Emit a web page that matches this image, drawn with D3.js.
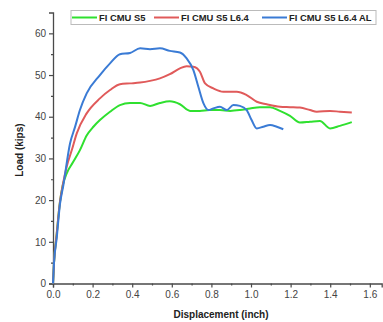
<!DOCTYPE html>
<html>
<head>
<meta charset="utf-8">
<script src="https://cdn.jsdelivr.net/npm/d3@7"></script>
<style>
  html, body { margin: 0; padding: 0; background: #fff; }
  svg { display: block; font-family: 'Liberation Sans', Arial, sans-serif; }
</style>
</head>
<body>
<div id="chart"></div>
<script>
// Series names (legend order)
const seriesNames = ['FI CMU S5', 'FI CMU S5 L6.4', 'FI CMU S5 L6.4 AL'];
const seriesColors = ['#2fe02f', '#e05a5a', '#3a7bd5'];

// Displacement (inch), Load (kips)
const s5X = [0, 0.005, 0.019, 0.035, 0.049, 0.07, 0.1, 0.136, 0.17, 0.204, 0.237, 0.288, 0.338, 0.389, 0.44, 0.49, 0.54, 0.59, 0.641, 0.692, 0.742, 0.79, 0.843, 0.894, 0.944, 0.995, 1.045, 1.096, 1.146, 1.197, 1.247, 1.298, 1.348, 1.399, 1.449, 1.509];
const s5Y = [0, 4.9, 12, 19.5, 23.5, 26.5, 29, 32, 35.5, 37.6, 39.2, 41.2, 42.8, 43.3, 43.3, 42.6, 43.3, 43.7, 43.0, 41.4, 41.4, 41.6, 41.6, 41.4, 41.6, 42, 42.3, 42.3, 41.4, 40.2, 38.6, 38.8, 39, 37.2, 37.8, 38.7];

const l64X = [0, 0.005, 0.019, 0.035, 0.049, 0.069, 0.095, 0.12, 0.17, 0.237, 0.288, 0.338, 0.389, 0.44, 0.49, 0.54, 0.59, 0.641, 0.675, 0.709, 0.742, 0.768, 0.81, 0.86, 0.928, 0.978, 1.029, 1.079, 1.146, 1.197, 1.247, 1.298, 1.332, 1.399, 1.449, 1.509];
const l64Y = [0, 4.9, 12, 19.5, 23.5, 28, 32, 36, 40.8, 44.4, 46.4, 47.8, 48, 48.2, 48.6, 49.2, 50.2, 51.6, 52.1, 52, 50.8, 48, 46.8, 46, 46, 45.2, 43.6, 43, 42.4, 42.3, 42.2, 41.6, 41.2, 41.4, 41.2, 41];

const alX = [0, 0.005, 0.019, 0.035, 0.052, 0.086, 0.111, 0.136, 0.17, 0.237, 0.288, 0.338, 0.389, 0.44, 0.49, 0.54, 0.59, 0.641, 0.675, 0.709, 0.734, 0.76, 0.785, 0.81, 0.843, 0.877, 0.911, 0.944, 0.978, 1.003, 1.029, 1.062, 1.096, 1.13, 1.163];
const alY = [0, 4.9, 11, 19, 23.5, 33.6, 37.5, 41.6, 45.6, 50, 52.8, 55, 55.3, 56.4, 56.2, 56.4, 55.8, 55.4, 54, 51.2, 47.2, 43.2, 41.6, 42, 42.4, 41.6, 42.8, 42.6, 41.6, 39.2, 37.2, 37.6, 38, 37.6, 37];

const xTicks = [0, 0.2, 0.4, 0.6, 0.8, 1.0, 1.2, 1.4, 1.6];
const xMinorTicks = [0.1, 0.3, 0.5, 0.7, 0.9, 1.1, 1.3, 1.5];
const yTicks = [0, 10, 20, 30, 40, 50, 60];
const yMinorTicks = [5, 15, 25, 35, 45, 55];

const width = 383, height = 322;
const svg = d3.select('#chart').append('svg')
  .attr('width', width)
  .attr('height', height);

const x = d3.scaleLinear().domain([0, 1.66]).range([53, 381.7]);
const y = d3.scaleLinear().domain([0, 65]).range([283.5, 12.5]);

const axisColor = '#4a4a4a';
const labelColor = '#444';

// Axes
svg.append('g')
  .attr('transform', `translate(0, ${y(0)})`)
  .call(d3.axisBottom(x).tickValues(xTicks).tickSize(4).tickPadding(3).tickFormat(d3.format('.1f')));
svg.append('g')
  .attr('transform', `translate(0, ${y(0)})`)
  .call(d3.axisBottom(x).tickValues(xMinorTicks).tickSize(2).tickFormat(''))
  .select('.domain').remove();

svg.append('g')
  .attr('transform', `translate(${x(0)}, 0)`)
  .call(d3.axisLeft(y).tickValues(yTicks).tickSize(4).tickPadding(3));
svg.append('g')
  .attr('transform', `translate(${x(0)}, 0)`)
  .call(d3.axisLeft(y).tickValues(yMinorTicks).tickSize(2).tickFormat(''))
  .select('.domain').remove();

svg.selectAll('.domain').attr('stroke', axisColor).attr('stroke-width', 1.3);
svg.selectAll('.tick line').attr('stroke', axisColor).attr('stroke-width', 1.2);
svg.selectAll('.tick text')
  .attr('fill', labelColor)
  .style('font-size', '10px')
  .style('font-family', "'Liberation Sans', Arial, sans-serif");

// Axis titles
svg.append('text')
  .attr('x', 221)
  .attr('y', 318)
  .attr('text-anchor', 'middle')
  .attr('fill', '#222')
  .style('font-size', '10px')
  .style('font-weight', 'bold')
  .text('Displacement (inch)');

svg.append('text')
  .attr('transform', `translate(23, ${y(32)}) rotate(-90)`)
  .attr('text-anchor', 'middle')
  .attr('fill', '#222')
  .style('font-size', '10px')
  .style('font-weight', 'bold')
  .text('Load (kips)');

// Curves
const series = [
  { name: seriesNames[0], xs: s5X, ys: s5Y, color: seriesColors[0] },
  { name: seriesNames[1], xs: l64X, ys: l64Y, color: seriesColors[1] },
  { name: seriesNames[2], xs: alX, ys: alY, color: seriesColors[2] }
];

const line = d3.line()
  .x(d => x(d[0]))
  .y(d => y(d[1]))
  .curve(d3.curveMonotoneX);

svg.append('g').selectAll('path')
  .data(series)
  .enter()
  .append('path')
  .attr('fill', 'none')
  .attr('stroke', d => d.color)
  .attr('stroke-width', 2)
  .attr('stroke-linejoin', 'round')
  .attr('d', d => line(d.xs.map((v, i) => [v, d.ys[i]])));

// Legend
const legend = svg.append('g');
legend.append('rect')
  .attr('x', 71).attr('y', 10.5)
  .attr('width', 305).attr('height', 14)
  .attr('fill', '#fff')
  .attr('stroke', '#bbb')
  .attr('stroke-width', 1);

const legendX = [72, 154, 262];
const items = legend.selectAll('.legend-item')
  .data(series)
  .enter()
  .append('g')
  .attr('class', 'legend-item')
  .attr('transform', (d, i) => `translate(${legendX[i]}, 17.5)`);

items.append('line')
  .attr('x1', 0).attr('x2', 25)
  .attr('stroke', d => d.color)
  .attr('stroke-width', 2);

items.append('text')
  .attr('x', 27)
  .attr('dy', '0.35em')
  .attr('fill', '#222')
  .style('font-size', '9.4px')
  .style('font-weight', 'bold')
  .text(d => d.name);
</script>
</body>
</html>
